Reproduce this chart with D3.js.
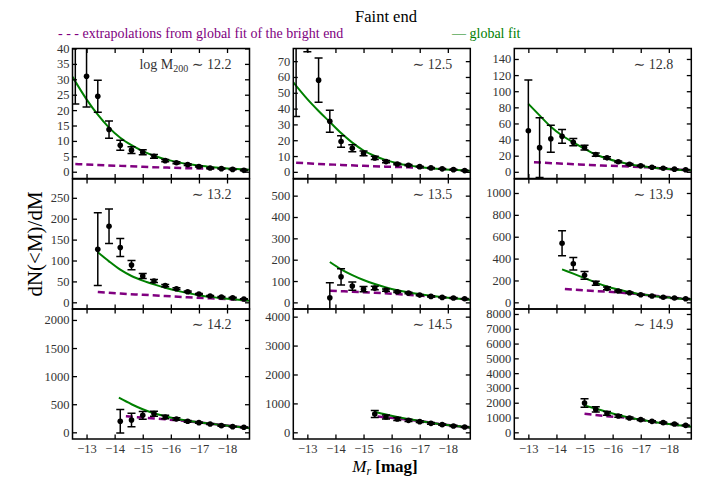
<!DOCTYPE html>
<html lang="en">
<head>
<meta charset="utf-8">
<title>Faint end</title>
<script src="https://cdn.jsdelivr.net/npm/d3@7"></script>
<style>
  body { margin: 0; background: #fff; }
  text { font-family: "Liberation Serif", "DejaVu Serif", serif; }
</style>
</head>
<body>
<div id="chart"></div>
<script>
// magnitude bins of the measured points
const mags = [-12.6, -13.0, -13.4, -13.8, -14.2, -14.6, -15.0, -15.4, -15.8, -16.2, -16.6, -17.0, -17.4, -17.8, -18.2, -18.6];

// halo mass of each panel (log M200)
const haloMass = ["12.2", "12.5", "12.8", "13.2", "13.5", "13.9", "14.2", "14.5", "14.9"];

// measured dN(<M)/dM, one row per panel
const counts = [
  [44, 31, 24.5, 13.7, 8.6, 7.0, 6.3, 5.0, 3.6, 2.9, 2.3, 1.7, 1.2, 1.0, 0.75, 0.45],
  [85, 100, 58, 32, 19.2, 14.9, 11.7, 8.8, 6.5, 5.0, 4.2, 3.3, 2.5, 1.9, 1.4, 0.8],
  [null, 51, 30, 41, 44, 36.7, 30.1, 21.4, 17.3, 12.4, 9.4, 7.4, 5.7, 4.5, 3.3, 2.5],
  [null, null, 127, 182, 131, 89, 63, 51, 40, 32.6, 25.4, 19.9, 15.1, 12.7, 11, 7.9],
  [null, null, null, 22, 120, 76.5, 62, 67, 57.7, 49.8, 43.6, 34.2, 28, 23.4, 20.3, 17.2],
  [null, null, null, null, 540, 353, 247, 174, 128, 103, 88, 70, 58, 46, 39, 33],
  [null, null, null, null, 196, 219, 302, 332, 273, 237, 196, 172, 149, 119, 101, 89],
  [null, null, null, null, null, null, null, 634, 531, 462, 414, 369, 310, 266, 221, 186],
  [null, null, null, null, null, null, 1981, 1550, 1280, 1105, 970, 856, 741, 654, 566, 472]
];

// symmetric error bars
const errors = [
  [22, 10, 5.2, 2.8, 1.6, 1.1, 0.8, 0.6, 0.4, 0.3, 0.3, 0.2, 0.2, 0.15, 0.1, 0.1],
  [50, 24, 14, 7, 3.6, 2.2, 1.5, 1.0, 0.7, 0.5, 0.4, 0.3, 0.3, 0.2, 0.2, 0.1],
  [null, 63, 37, 16.7, 8.5, 4.5, 3, 2, 1.5, 1.0, 0.8, 0.6, 0.5, 0.4, 0.3, 0.3],
  [null, null, 87, 41.5, 21.5, 11, 6, 3.5, 2.5, 2, 1.6, 1.3, 1.1, 1, 0.9, 0.8],
  [null, null, null, 70, 38, 19.5, 12, 8, 5, 4, 3.5, 3, 2.5, 2, 2, 1.5],
  [null, null, null, null, 115, 58, 35, 18, 12, 8, 6, 5, 4, 3.5, 3, 3],
  [null, null, null, null, 210, 120, 68, 45, 30, 22, 16, 12, 10, 9, 8, 7],
  [null, null, null, null, null, null, null, 120, 70, 50, 40, 32, 28, 24, 20, 18],
  [null, null, null, null, null, null, 280, 170, 120, 80, 60, 50, 45, 40, 35, 30]
];

// global fit, [mag, value]
const globalFit = [
  [[-12.5, 30.8], [-13.0, 23.5], [-13.4, 18.5], [-13.8, 14.3], [-14.2, 11.0], [-14.6, 8.6], [-15.0, 6.7], [-15.4, 5.2], [-15.8, 4.1], [-16.2, 3.2], [-16.6, 2.5], [-17.0, 2.0], [-17.4, 1.55], [-17.8, 1.2], [-18.2, 0.95], [-18.8, 0.62]],
  [[-12.5, 56.6], [-13.0, 46], [-13.4, 38.5], [-13.8, 31.5], [-14.2, 24.5], [-14.6, 18.5], [-15.0, 13.5], [-15.4, 10], [-15.8, 7.4], [-16.2, 5.5], [-16.6, 4.1], [-17.0, 3.1], [-17.4, 2.3], [-17.8, 1.7], [-18.2, 1.3], [-18.8, 0.75]],
  [[-13.0, 84.3], [-13.4, 70], [-13.8, 56], [-14.2, 45], [-14.6, 36.5], [-15.0, 28.5], [-15.4, 21.5], [-15.8, 16.5], [-16.2, 12.4], [-16.6, 9.5], [-17.0, 7.2], [-17.4, 5.4], [-17.8, 4.1], [-18.2, 3.0], [-18.8, 1.8]],
  [[-13.4, 120], [-13.8, 98], [-14.2, 78], [-14.6, 63], [-15.0, 52], [-15.4, 43], [-15.8, 35], [-16.2, 28], [-16.6, 22], [-17.0, 17], [-17.4, 13], [-17.8, 10], [-18.2, 7.5], [-18.8, 4]],
  [[-13.8, 189], [-14.2, 155], [-14.6, 128], [-15.0, 105], [-15.4, 86], [-15.8, 70], [-16.2, 57], [-16.6, 47], [-17.0, 38], [-17.4, 31], [-17.8, 24], [-18.2, 19], [-18.8, 12]],
  [[-14.2, 302], [-14.6, 262], [-15.0, 222], [-15.4, 180], [-15.8, 145], [-16.2, 117], [-16.6, 93], [-17.0, 75], [-17.4, 60], [-17.8, 48], [-18.2, 38], [-18.8, 27]],
  [[-14.15, 616], [-14.6, 500], [-15.0, 410], [-15.4, 340], [-15.8, 285], [-16.2, 242], [-16.6, 207], [-17.0, 178], [-17.4, 154], [-17.8, 130], [-18.2, 108], [-18.8, 78]],
  [[-15.4, 714], [-15.8, 615], [-16.2, 531], [-16.6, 460], [-17.0, 393], [-17.4, 332], [-17.8, 276], [-18.2, 228], [-18.8, 165]],
  [[-15.0, 1820], [-15.4, 1590], [-15.8, 1375], [-16.2, 1175], [-16.6, 990], [-17.0, 850], [-17.4, 721], [-17.8, 610], [-18.2, 510], [-18.8, 384]]
];

// extrapolation of the bright-end fit, purple dashes
const brightExtrap = [
  [[-12.6, 2.5], [-13.4, 2.2], [-14.2, 1.9], [-15.0, 1.6], [-15.8, 1.35], [-16.6, 1.15], [-17.4, 1.05], [-18.2, 0.9], [-18.8, 0.62]],
  [[-12.6, 5.8], [-13.4, 5.0], [-14.2, 4.4], [-15.0, 3.8], [-15.8, 3.3], [-16.6, 2.9], [-17.4, 2.3], [-18.2, 1.3], [-18.8, 0.75]],
  [[-13.2, 11.9], [-14.0, 10.5], [-14.8, 9.2], [-15.6, 7.9], [-16.4, 6.8], [-17.2, 5.6], [-18.0, 3.6], [-18.8, 1.8]],
  [[-13.4, 24.6], [-14.2, 21], [-15.0, 18], [-15.8, 15], [-16.6, 12], [-17.4, 9.5], [-18.2, 7], [-18.8, 4]],
  [[-13.8, 55], [-14.6, 50], [-15.4, 45], [-16.2, 39], [-17.0, 32], [-17.8, 24], [-18.8, 12]],
  [[-14.3, 122], [-15.0, 110], [-15.8, 97], [-16.6, 82], [-17.4, 62], [-18.2, 42], [-18.8, 27]],
  [[-14.4, 285], [-15.0, 262], [-15.8, 232], [-16.6, 197], [-17.4, 155], [-18.2, 110], [-18.8, 78]],
  [[-15.5, 545], [-16.2, 480], [-17.0, 390], [-17.8, 276], [-18.8, 165]],
  [[-15.0, 1260], [-15.8, 1085], [-16.6, 960], [-17.4, 721], [-18.2, 510], [-18.8, 384]]
];

// axis limits and ticks
const xLimits = [-12.5, -18.8];
const xTicks = [-13, -14, -15, -16, -17, -18];
const yLimits = [[-2.2, 40], [-4.2, 78], [-8.3, 153], [-16, 295], [-31, 578], [-61, 1128], [-119, 2195], [-231, 4265], [-452, 8337]];
const yTickStep = [5, 10, 20, 50, 100, 200, 500, 1000, 1000];

const width = 728, height = 488;
const colX = [72.5, 293.3, 514.3];
const rowY = [48.5, 179, 309];
const panelW = 177, panelH = 130;
const green = "#008000", purple = "#800080";

const svg = d3.select("#chart").append("svg")
    .attr("width", width)
    .attr("height", height);

const line = d3.line().curve(d3.curveMonotoneX);

haloMass.forEach((m, i) => {
  const col = i % 3, row = Math.floor(i / 3);
  const x0 = colX[col], y0 = rowY[row];
  const x = d3.scaleLinear().domain(xLimits).range([x0, x0 + panelW]);
  const y = d3.scaleLinear().domain(yLimits[i]).range([y0 + panelH, y0]);

  svg.append("clipPath").attr("id", "clip" + i)
    .append("rect").attr("x", x0).attr("y", y0).attr("width", panelW).attr("height", panelH);

  const g = svg.append("g").attr("clip-path", `url(#clip${i})`);

  g.append("path")
      .attr("d", line(brightExtrap[i].map(d => [x(d[0]), y(d[1])])))
      .attr("fill", "none")
      .attr("stroke", purple)
      .attr("stroke-width", 2.5)
      .attr("stroke-dasharray", "7,4");

  g.append("path")
      .attr("d", line(globalFit[i].map(d => [x(d[0]), y(d[1])])))
      .attr("fill", "none")
      .attr("stroke", green)
      .attr("stroke-width", 2);

  const pts = mags.map((mag, j) => ({mag, v: counts[i][j], e: errors[i][j]}))
      .filter(d => d.v !== null);

  const bars = g.append("g").attr("stroke", "#000").attr("stroke-width", 1.5);
  bars.selectAll("line.v").data(pts).join("line")
      .attr("x1", d => x(d.mag)).attr("x2", d => x(d.mag))
      .attr("y1", d => y(d.v - d.e)).attr("y2", d => y(d.v + d.e));
  bars.selectAll("line.lo").data(pts).join("line")
      .attr("x1", d => x(d.mag) - 4).attr("x2", d => x(d.mag) + 4)
      .attr("y1", d => y(d.v - d.e)).attr("y2", d => y(d.v - d.e));
  bars.selectAll("line.hi").data(pts).join("line")
      .attr("x1", d => x(d.mag) - 4).attr("x2", d => x(d.mag) + 4)
      .attr("y1", d => y(d.v + d.e)).attr("y2", d => y(d.v + d.e));

  g.append("g").selectAll("circle").data(pts).join("circle")
      .attr("cx", d => x(d.mag))
      .attr("cy", d => y(d.v))
      .attr("r", 2.8)
      .attr("fill", "#000");

  // axes, ticks pointing inward on every side
  const yTicks = d3.range(0, yLimits[i][1] + 1e-9, yTickStep[i]);
  const ax = svg.append("g").attr("class", "axes");
  ax.append("g").attr("transform", `translate(${x0},0)`)
      .call(d3.axisLeft(y).tickValues(yTicks).tickSize(-4.5).tickPadding(3).tickFormat(d3.format("d")));
  ax.append("g").attr("transform", `translate(${x0 + panelW},0)`)
      .call(d3.axisRight(y).tickValues(yTicks).tickSize(-4.5).tickFormat(""));
  ax.append("g").attr("transform", `translate(0,${y0})`)
      .call(d3.axisTop(x).tickValues(xTicks).tickSize(-4.5).tickFormat(""));
  ax.append("g").attr("transform", `translate(0,${y0 + panelH})`)
      .call(d3.axisBottom(x).tickValues(xTicks).tickSize(-4.5).tickPadding(5)
        .tickFormat(row === 2 ? d3.format("d") : ""));

  ax.selectAll(".domain").remove();
  ax.selectAll(".tick line").attr("stroke", "#000").attr("stroke-width", 1.3);
  ax.selectAll(".tick text").attr("fill", "#333").style("font-size", "12.5px")
      .style("font-family", "'Liberation Serif', serif");

  svg.append("rect")
      .attr("x", x0).attr("y", y0).attr("width", panelW).attr("height", panelH)
      .attr("fill", "none").attr("stroke", "#000").attr("stroke-width", 1.5);

  const lab = svg.append("text")
      .attr("x", x0 + panelW - 18)
      .attr("y", y0 + 20)
      .attr("text-anchor", "end")
      .attr("fill", "#333")
      .style("font-size", "14px");
  if (i === 0) {
    lab.append("tspan").text("log M");
    lab.append("tspan").attr("dy", 3).style("font-size", "10px").text("200");
    lab.append("tspan").attr("dy", -3).text(" \u223C " + m);
  } else {
    lab.text("\u223C " + m);
  }
});

svg.append("text")
    .attr("x", 386).attr("y", 22)
    .attr("text-anchor", "middle")
    .style("font-size", "16.5px")
    .text("Faint end");

svg.append("text")
    .attr("x", 58).attr("y", 38)
    .attr("fill", purple)
    .style("font-size", "14px")
    .text("- - - extrapolations from global fit of the bright end");

svg.append("text")
    .attr("x", 452).attr("y", 38)
    .attr("fill", green)
    .style("font-size", "14px")
    .text("\u2014 global fit");

svg.append("text")
    .attr("transform", "translate(42,244) rotate(-90)")
    .attr("text-anchor", "middle")
    .style("font-size", "21px")
    .text("dN(<M)/dM");

const xl = svg.append("text")
    .attr("x", 385).attr("y", 472)
    .attr("text-anchor", "middle")
    .style("font-size", "17px");
xl.append("tspan").style("font-style", "italic").text("M");
xl.append("tspan").attr("dy", 3).style("font-style", "italic").style("font-size", "12px").text("r");
xl.append("tspan").attr("dy", -3).style("font-weight", "bold").text(" [mag]");
</script>
</body>
</html>
